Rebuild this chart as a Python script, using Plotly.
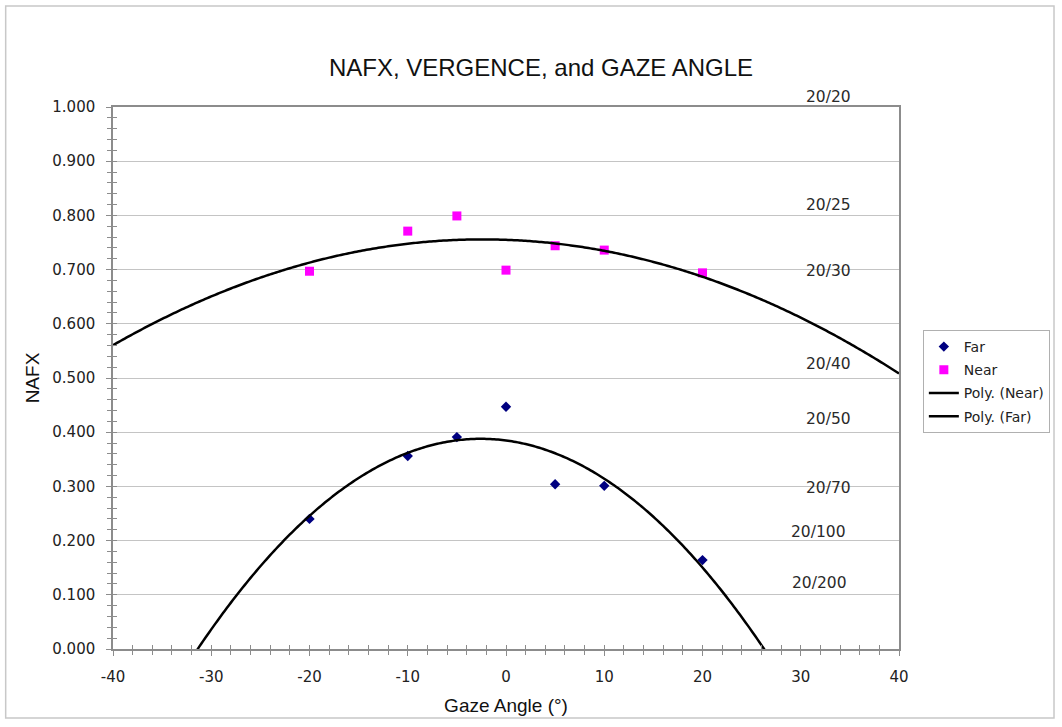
import numpy as np
import plotly.graph_objects as go

# ---- data ----
gaze_angle = [-20, -10, -5, 0, 5, 10, 20]
far_nafx = [0.240, 0.356, 0.391, 0.447, 0.304, 0.301, 0.164]
near_nafx = [0.697, 0.771, 0.799, 0.699, 0.744, 0.736, 0.694]

acuity_labels = ["20/20", "20/25", "20/30", "20/40", "20/50", "20/70", "20/100", "20/200"]
acuity_nafx = [1.018, 0.819, 0.697, 0.526, 0.424, 0.297, 0.216, 0.122]
acuity_x = [32.8, 32.8, 32.8, 32.8, 32.8, 32.8, 31.8, 31.9]

x_ticks = [-40, -30, -20, -10, 0, 10, 20, 30, 40]
y_ticks = [0.0, 0.1, 0.2, 0.3, 0.4, 0.5, 0.6, 0.7, 0.8, 0.9, 1.0]

X_RANGE = [-40, 40]
Y_RANGE = [0, 1]

# polynomial (order 2) trendlines
xfit = np.linspace(X_RANGE[0], X_RANGE[1], 401)
near_fit = np.polyval(np.polyfit(gaze_angle, near_nafx, 2), xfit)
far_fit = np.polyval(np.polyfit(gaze_angle, far_nafx, 2), xfit)

FONT = "DejaVu Sans"
L, R, T, B = 113, 158, 107, 78
PW = 1062 - L - R
PH = 727 - T - B

fig = go.Figure()
fig.add_trace(go.Scatter(x=gaze_angle, y=far_nafx, mode="markers", name="Far", legendgroup="a",
                         marker=dict(symbol="diamond", size=8, color="#000080")))
fig.add_trace(go.Scatter(x=gaze_angle, y=near_nafx, mode="markers", name="Near", legendgroup="b",
                         marker=dict(symbol="square", size=9, color="#FF00FF")))
fig.add_trace(go.Scatter(x=xfit, y=near_fit, mode="lines", name="Poly. (Near)", legendgroup="c",
                         line=dict(color="black", width=2.5, simplify=False)))
fig.add_trace(go.Scatter(x=xfit, y=far_fit, mode="lines", name="Poly. (Far)", legendgroup="d",
                         line=dict(color="black", width=2.5, simplify=False)))
# invisible trace to activate overlay axes (for crossing tick marks)
fig.add_trace(go.Scatter(x=[None], y=[None], xaxis="x2", yaxis="y2",
                         showlegend=False, hoverinfo="skip"))

for lab, yv, xv in zip(acuity_labels, acuity_nafx, acuity_x):
    fig.add_annotation(x=(xv - X_RANGE[0]) / (X_RANGE[1] - X_RANGE[0]),
                       y=(yv - Y_RANGE[0]) / (Y_RANGE[1] - Y_RANGE[0]),
                       text=lab, showarrow=False, xref="paper", yref="paper",
                       xanchor="center", yanchor="middle",
                       font=dict(family=FONT, size=15.5, color="#2a2a2a"))

axis_col = "#8c8c8c"
fig.update_layout(
    width=1062, height=727, autosize=False,
    paper_bgcolor="white", plot_bgcolor="white",
    margin=dict(l=L, r=R, t=T, b=B),
    title=dict(text="NAFX, VERGENCE, and GAZE ANGLE", x=541 / 1062, xanchor="center",
               y=1 - 68 / 727, yanchor="middle",
               font=dict(family="Liberation Sans", size=24, color="#111")),
    xaxis=dict(range=X_RANGE, tickvals=x_ticks, ticktext=[str(v) for v in x_ticks],
               showgrid=False, zeroline=False, showline=True, linecolor=axis_col, linewidth=1.5,
               mirror=True, ticks="outside", ticklen=5, tickcolor=axis_col, ticklabelstandoff=8,
               minor=dict(dtick=2, ticks="outside", ticklen=4, tickcolor=axis_col, showgrid=False),
               tickfont=dict(family=FONT, size=15, color="#222"),
               title=dict(text="Gaze Angle (°)", font=dict(family="Liberation Sans", size=19, color="#111"),
                          standoff=14)),
    yaxis=dict(range=Y_RANGE, tickvals=y_ticks, ticktext=["%.3f" % v for v in y_ticks],
               showgrid=True, gridcolor="#c4c4c4", gridwidth=1, zeroline=False,
               showline=True, linecolor=axis_col, linewidth=1.5, mirror=True,
               ticks="outside", ticklen=5, tickcolor=axis_col, ticklabelstandoff=8,
               minor=dict(dtick=0.02, ticks="outside", ticklen=4, tickcolor=axis_col, showgrid=False),
               tickfont=dict(family=FONT, size=15, color="#222"),
               title=dict(text="NAFX", font=dict(family="Liberation Sans", size=19, color="#111"),
                          standoff=8)),
    xaxis2=dict(overlaying="x", matches="x", range=X_RANGE, showticklabels=False,
                showgrid=False, zeroline=False, showline=False, anchor="y2",
                tickvals=x_ticks, ticks="inside", ticklen=4, tickcolor=axis_col,
                minor=dict(dtick=2, ticks="inside", ticklen=4, tickcolor=axis_col, showgrid=False)),
    yaxis2=dict(overlaying="y", matches="y", range=Y_RANGE, showticklabels=False,
                showgrid=False, zeroline=False, showline=False, anchor="x2",
                tickvals=y_ticks, ticks="inside", ticklen=4, tickcolor=axis_col,
                minor=dict(dtick=0.02, ticks="inside", ticklen=4, tickcolor=axis_col, showgrid=False)),
    legend=dict(x=(928 - L) / PW, y=(727 - B - 330) / PH, xanchor="left", yanchor="top",
                bordercolor="#b0b0b0", borderwidth=1, bgcolor="white",
                font=dict(family=FONT, size=14, color="#222"), tracegroupgap=2,
                itemwidth=30),
    showlegend=True,
)
# outer chart frame
fig.add_shape(type="rect", xref="paper", yref="paper",
              x0=(5 - L) / PW, x1=(1060 - L) / PW,
              y0=(727 - B - 718) / PH, y1=(727 - B - 6) / PH,
              line=dict(color="#c8c8c8", width=1.5), fillcolor="rgba(0,0,0,0)", layer="below")

fig.write_html("out.html", post_script="document.body.style.margin='0';",
               config={"displayModeBar": False})
